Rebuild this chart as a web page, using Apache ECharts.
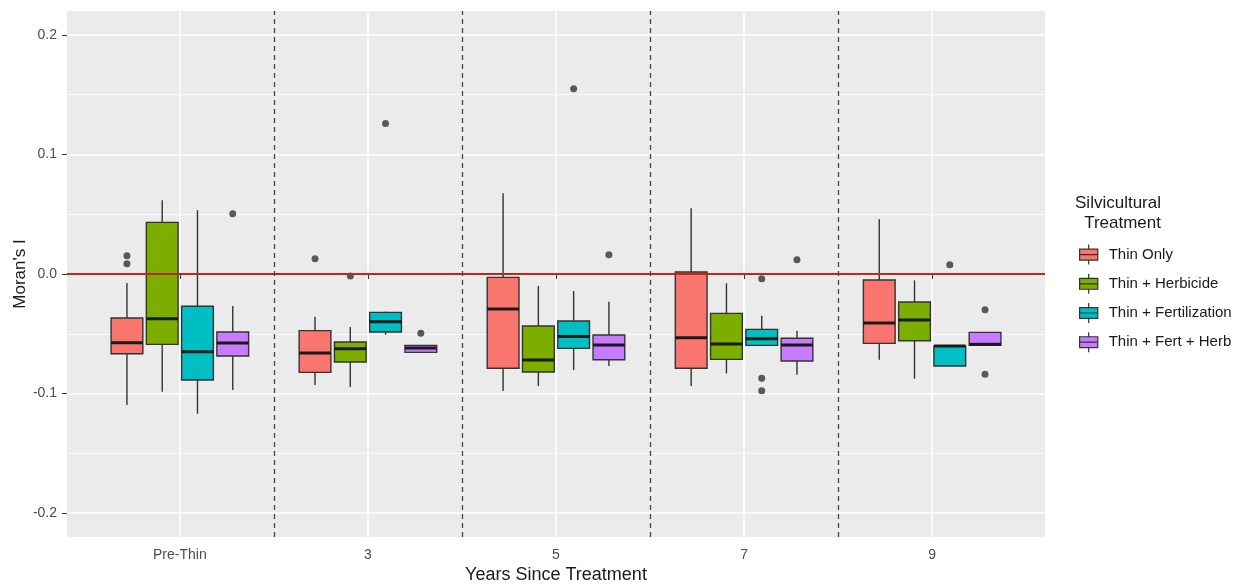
<!DOCTYPE html>
<html>
<head>
<meta charset="utf-8">
<script src="https://cdn.jsdelivr.net/npm/echarts@6/dist/echarts.min.js"></script>
<style>
  html, body { margin: 0; padding: 0; background: #fff; }
  #chart { width: 1242px; height: 588px; }
</style>
</head>
<body>
<div id="chart"></div>
<script>
const categories = ['Pre-Thin', '3', '5', '7', '9']
const seriesNames = ['Thin Only', 'Thin + Herbicide', 'Thin + Fertilization', 'Thin + Fert + Herb']
const colors = ['#F8766D', '#7CAE00', '#00BFC4', '#C77CFF']
const yTicks = [-0.2, -0.1, 0, 0.1, 0.2]
const yMinorTicks = [-0.15, -0.05, 0.05, 0.15]

// [lower whisker, Q1, median, Q3, upper whisker], one row per category
const thinOnly = [
  [-0.1096, -0.0667, -0.0575, -0.0368, -0.0075],
  [-0.0929, -0.0823, -0.0661, -0.0474, -0.0357],
  [-0.0979, -0.0789, -0.0293, -0.0028, 0.0675],
  [-0.0937, -0.0789, -0.0533, 0.0017, 0.0550],
  [-0.0717, -0.0580, -0.0410, -0.0050, 0.0457],
]
const thinHerb = [
  [-0.0985, -0.0589, -0.0374, 0.0432, 0.0617],
  [-0.0946, -0.0736, -0.0625, -0.0569, -0.0444],
  [-0.0937, -0.0820, -0.0720, -0.0435, -0.0100],
  [-0.0831, -0.0714, -0.0586, -0.0329, -0.0078],
  [-0.0876, -0.0558, -0.0385, -0.0234, -0.0053],
]
const thinFert = [
  [-0.1169, -0.0887, -0.0650, -0.0270, 0.0533],
  [-0.0508, -0.0485, -0.0399, -0.0321, -0.0315],
  [-0.0803, -0.0622, -0.0522, -0.0393, -0.0142],
  [-0.0597, -0.0597, -0.0541, -0.0463, -0.0349],
  [-0.0770, -0.0770, -0.0603, -0.0603, -0.0603],
]
const thinFertHerb = [
  [-0.0971, -0.0686, -0.0577, -0.0485, -0.0268],
  [-0.0660, -0.0656, -0.0619, -0.0597, -0.0594],
  [-0.0770, -0.0717, -0.0594, -0.0510, -0.0232],
  [-0.0842, -0.0728, -0.0594, -0.0538, -0.0474],
  [-0.0596, -0.0596, -0.0588, -0.0488, -0.0488],
]

// outliers: [category index, value]
const thinOnlyOut = [[0, 0.0153], [0, 0.0086], [1, 0.0128]]
const thinHerbOut = [[1, -0.0017]]
const thinFertOut = [[1, 0.1258], [2, 0.1550], [3, -0.0039], [3, -0.0873], [3, -0.0976], [4, 0.0078]]
const thinFertHerbOut = [[0, 0.0505], [1, -0.0496], [2, 0.0162], [3, 0.0120], [4, -0.0299], [4, -0.0839]]

const boxes = [thinOnly, thinHerb, thinFert, thinFertHerb]
const outliers = [thinOnlyOut, thinHerbOut, thinFertOut, thinFertHerbOut]

// ggplot dodge: 4 boxes in 0.75 of a unit, 10% padding
const dodge = 0.75 / 4
const offsets = [-1.5, -0.5, 0.5, 1.5].map(k => k * dodge)
const boxWidth = dodge * 0.9

function renderBox(params, api) {
  const x = api.value(0)
  const p = [1, 2, 3, 4, 5].map(d => api.coord([x, api.value(d)]))
  const half = api.size([boxWidth, 0])[0] / 2
  const cx = p[0][0]
  const edge = { stroke: '#333333', lineWidth: 1.4 }
  return {
    type: 'group',
    children: [
      { type: 'line', shape: { x1: cx, y1: p[0][1], x2: cx, y2: p[1][1] }, style: edge },
      { type: 'line', shape: { x1: cx, y1: p[3][1], x2: cx, y2: p[4][1] }, style: edge },
      {
        type: 'rect',
        shape: { x: cx - half, y: p[3][1], width: half * 2, height: p[1][1] - p[3][1] },
        style: { fill: api.visual('color'), stroke: '#333333', lineWidth: 1.4 },
      },
      {
        type: 'line',
        shape: { x1: cx - half, y1: p[2][1], x2: cx + half, y2: p[2][1] },
        style: { stroke: '#1a1a1a', lineWidth: 3 },
      },
    ],
  }
}

const series = []
boxes.forEach((rows, s) => {
  series.push({
    name: seriesNames[s],
    type: 'custom',
    z: 3,
    itemStyle: { color: colors[s] },
    encode: { x: 0, y: [1, 2, 3, 4, 5] },
    renderItem: renderBox,
    data: rows.map((r, i) => [i + 1 + offsets[s], ...r]),
  })
})
outliers.forEach((pts, s) => {
  series.push({
    name: 'outliers ' + s,
    type: 'scatter',
    z: 4,
    symbolSize: 7,
    itemStyle: { color: '#333333' },
    data: pts.map(([i, v]) => [i + 1 + offsets[s], v]),
  })
})
// reference lines: zero line and dashed separators between years
series.push({
  type: 'line',
  z: 1,
  data: [],
  markLine: {
    silent: true,
    symbol: 'none',
    label: { show: false },
    data: [
      { yAxis: 0, lineStyle: { color: '#C0281E', width: 2, type: 'solid' } },
      ...[1.5, 2.5, 3.5, 4.5].map(v => ({
        xAxis: v,
        lineStyle: { color: '#444444', width: 1.3, type: [5, 4] },
      })),
    ],
  },
})

const legendIcon = 'path://M0,5H20V17H0Z M0,11H20 M10,0V5 M10,17V22'

const option = {
  animation: false,
  textStyle: { fontFamily: 'Liberation Sans, Arial, sans-serif' },
  grid: {
    left: 67,
    right: 197,
    top: 11,
    bottom: 51,
    outerBoundsMode: 'none',
    show: true,
    backgroundColor: '#EBEBEB',
    borderWidth: 0,
  },
  graphic: [
    {
      type: 'text',
      x: 1161,
      y: 193,
      style: {
        text: 'Silvicultural\nTreatment',
        textAlign: 'right',
        font: '17px "Liberation Sans", Arial, sans-serif',
        lineHeight: 20,
        fill: '#1a1a1a',
      },
    },
  ],
  legend: {
    orient: 'vertical',
    left: 1074,
    top: 239,
    itemWidth: 22,
    itemHeight: 20,
    itemGap: 8,
    selectedMode: false,
    textStyle: { fontSize: 15, color: '#1a1a1a', padding: [0, 0, 0, 4] },
    data: seriesNames.map((n, i) => ({
      name: n,
      icon: legendIcon,
      itemStyle: { color: colors[i], borderColor: '#333333', borderWidth: 1.2 },
    })),
  },
  xAxis: {
    type: 'value',
    min: 0.4,
    max: 5.6,
    name: 'Years Since Treatment',
    nameLocation: 'middle',
    nameGap: 29,
    nameMoveOverlap: false,
    nameTextStyle: { fontSize: 18, color: '#1a1a1a' },
    axisLine: { show: false },
    axisTick: { show: true, length: 5, lineStyle: { color: '#333333' }, customValues: [1, 2, 3, 4, 5] },
    axisLabel: {
      color: '#4D4D4D',
      fontSize: 14,
      margin: 11,
      customValues: [1, 2, 3, 4, 5],
      formatter: v => categories[Math.round(v) - 1],
    },
    splitLine: { show: true, lineStyle: { color: '#FFFFFF', width: 1.5 } },
  },
  yAxis: [
    {
      type: 'value',
      min: -0.22,
      max: 0.22,
      name: "Moran's I",
      nameLocation: 'middle',
      nameGap: 38,
      nameMoveOverlap: false,
      nameTextStyle: { fontSize: 17, color: '#1a1a1a' },
      axisLine: { show: false },
      axisTick: { show: true, length: 5, lineStyle: { color: '#333333' }, customValues: yTicks },
      axisLabel: {
        color: '#4D4D4D',
        fontSize: 14,
        margin: 10,
        customValues: yTicks,
        formatter: v => v.toFixed(1),
      },
      splitLine: { show: true, lineStyle: { color: '#FFFFFF', width: 1.5 } },
    },
    {
      type: 'value',
      min: -0.22,
      max: 0.22,
      position: 'left',
      axisLine: { show: false },
      axisTick: { show: false, customValues: yMinorTicks },
      axisLabel: { show: false, customValues: yMinorTicks },
      splitLine: { show: true, lineStyle: { color: '#FFFFFF', width: 0.8 } },
    },
  ],
  series,
}

const chart = echarts.init(document.getElementById('chart'))
chart.setOption(option)
</script>
</body>
</html>
